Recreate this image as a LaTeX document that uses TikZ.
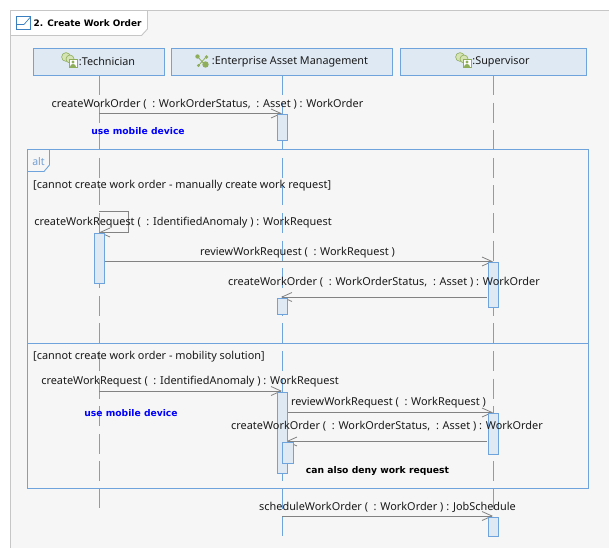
\documentclass[tikz,border=0pt]{standalone}
\usepackage{fontspec}
\setmainfont{Noto Sans}
\newfontfamily\boldfam{DejaVu Sans}
\usetikzlibrary{arrows.meta}
\pgfdeclarelayer{sheet}
\pgfdeclarelayer{under}
\pgfsetlayers{sheet,under,main}
\definecolor{ln}{HTML}{6FA3DC}
\definecolor{bx}{HTML}{DFE9F4}
\definecolor{bgc}{HTML}{F6F6F6}
\definecolor{fr}{HTML}{C6C6C6}
\definecolor{ms}{HTML}{828282}
\definecolor{tx}{HTML}{1A1A1A}
\definecolor{icg}{HTML}{8FAE5A}
\definecolor{icl}{HTML}{D5E3B5}
\definecolor{ttl}{HTML}{3A7FBF}
\tikzset{
  x=1pt,y=-1pt,
  head/.style={draw=ln,fill=bx,line width=0.9pt,minimum height=27pt,inner sep=0pt,outer sep=0pt,text=tx,font=\fontsize{10.8}{12}\selectfont},
  act/.style={draw=ln,fill=bx,line width=0.9pt,inner sep=0pt,outer sep=0pt,minimum width=10pt},
  life/.style={draw=ln,line width=0.9pt,dash pattern=on 20pt off 7.6pt},
  msg/.style={draw=ms,line width=0.9pt,-{Straight Barb[length=10pt,width=9pt,line width=0.8pt]}},
  lbl/.style={inner sep=0pt,text=tx,yshift=-1pt,font=\fontsize{10.9}{12}\selectfont},
  note/.style={inner sep=0pt,font=\boldfam\fontsize{9.2}{11}\selectfont\bfseries},
}
\newcommand{\actoricon}[2]{%
  \fill[icl,draw=icg,line width=0.6pt] (#1+4,#2+4) circle[radius=4.4];
  \fill[icl,draw=icg,line width=0.6pt] (#1+8,#2+6) circle[radius=4];
  \fill[white,draw=icg,line width=0.7pt] (#1+7,#2+6) rectangle (#1+15,#2+14.5);
  \fill[icg] (#1+11,#2+9) circle[radius=1.7];
  \fill[icg] (#1+8,#2+14) .. controls (#1+8,#2+10.5) and (#1+14,#2+10.5) .. (#1+14,#2+14) -- cycle;
}
\begin{document}
\begin{tikzpicture}
\useasboundingbox (0,0) rectangle (609,548);
% sheet and title tab
\begin{pgfonlayer}{sheet}
\fill[white] (0,0) rectangle (609,548);
\fill[bgc] (10.5,10.5) rectangle (609,548);
\draw[fr,line width=0.9pt] (609,10.5) -- (10.5,10.5) -- (10.5,548);
\draw[fr,line width=0.9pt,fill=white] (10.5,10.5) -- (147.5,10.5) -- (147.5,29) -- (141.5,35.5) -- (10.5,35.5) -- cycle;
\draw[draw=ttl,fill=white,line width=0.9pt] (16.5,16.5) rectangle (30.5,29.5);
\draw[draw=ttl,line width=0.7pt] (16.5,24.5) -- (24,24.5) -- (30.5,17);
\end{pgfonlayer}
\node[anchor=west,inner sep=0pt,text=black,font=\boldfam\fontsize{8.9}{12}\selectfont\bfseries] (title) at (33.5,23) {2. Create Work Order};
% lifeline heads
\node[head,minimum width=130.5pt] (tech) at (99,61.5) {\hspace{16pt}\raisebox{-0.5pt}{:Technician}};
\node[head,minimum width=220.5pt] (eam) at (282,61.5) {\hspace{16pt}\raisebox{-0.5pt}{:Enterprise Asset Management}};
\node[head,minimum width=186pt] (sup) at (493,61.5) {\hspace{16pt}\raisebox{-0.5pt}{:Supervisor}};
\actoricon{62}{53}
\actoricon{456}{53}
% EAM icon
\draw[icg,line width=0.8pt] (197.5,56.5) -- (205,65) (206,57) -- (199,65);
\fill[icg] (197.5,56.5) circle[radius=2.2] (206.5,57) circle[radius=1.9] (198.5,65.5) circle[radius=1.7] (205.5,64.5) circle[radius=3.2];
% lifeline ends
\coordinate (techEnd) at (99,508);
\coordinate (eamEnd) at (282,536);
\coordinate (supEnd) at (493,544);
\begin{pgfonlayer}{under}
\draw[life] (tech.south) -- (techEnd);
\draw[life] (eam.south) -- (eamEnd);
\draw[life] (sup.south) -- (supEnd);
\end{pgfonlayer}
% alt frame
\coordinate (fTL) at (27.5,149.5);
\coordinate (fBR) at (588,488);
\coordinate (dL) at (27.5,343.5);
\coordinate (dR) at (588,343.5);
\begin{pgfonlayer}{under}
\draw[ln,line width=0.9pt] (fTL) rectangle (fBR);
\draw[ln,line width=0.9pt] (dL) -- (dR);
\draw[ln,line width=0.9pt] (27.5,171.5) -- (44,171.5) -- (49.5,165) -- (49.5,149.5);
\end{pgfonlayer}
\node[inner sep=0pt,text=ln!90!gray,font=\fontsize{10.5}{11}\selectfont] (alt) at (38.5,161.5) {alt};
% activations
\node[act,minimum height=26pt] (a1) at (282,127) {};
\node[act,minimum height=50.5pt] (a2) at (99.5,258.2) {};
\node[act,minimum height=45pt] (a3) at (493,284.5) {};
\node[act,minimum height=16.5pt] (a4) at (282,306.2) {};
\node[act,minimum height=81.5pt] (a5) at (282.2,432.7) {};
\node[act,minimum height=41.5pt] (a6) at (493,433.7) {};
\node[act,minimum height=21pt,minimum width=11pt] (a7) at (287.5,452.5) {};
\node[act,minimum height=19pt] (a8) at (493,526.5) {};
% message anchors
\coordinate (m1a) at (99,113.5);   \coordinate (m1b) at (282,113.5);
\coordinate (s1a) at (99,211.5);   \coordinate (s1b) at (128.5,211.5);
\coordinate (s1c) at (128.5,232.5);\coordinate (s1d) at (99,232.5);
\coordinate (m2b) at (493,261.5);
\coordinate (m3a) at (487,297);    \coordinate (m3b) at (281,297);
\coordinate (m4a) at (99,391);     \coordinate (m4b) at (282,391);
\coordinate (m5b) at (493,412.5);
\coordinate (m6a) at (487,441.5);  \coordinate (m6b) at (286,441.5);
\coordinate (m7a) at (282,516);    \coordinate (m7b) at (493,516);
\begin{pgfonlayer}{under}
\draw[msg] (m1a) -- (m1b);
\draw[msg] (s1a) -- (s1b) -- (s1c) -- (s1d);
\draw[msg] (a2.east |- m2b) -- (m2b);
\draw[msg] (m3a) -- (m3b);
\draw[msg] (m4a) -- (m4b);
\draw[msg] (a5.east |- m5b) -- (m5b);
\draw[msg] (m6a) -- (m6b);
\draw[msg] (m7a) -- (m7b);
\end{pgfonlayer}
% labels
\node[lbl] (t1) at (207.5,103) {createWorkOrder (\ \ : WorkOrderStatus,\ \ : Asset ) : WorkOrder};
\node[note,text=blue] (n1) at (138,131) {use mobile device};
\node[lbl,anchor=west] (g1) at (33,185) {[cannot create work order - manually create work request]};
\node[lbl] (t2) at (183,222) {createWorkRequest (\ \ : IdentifiedAnomaly ) : WorkRequest};
\node[lbl] (t3) at (297.5,252) {reviewWorkRequest (\ \ : WorkRequest )};
\node[lbl] (t4) at (384,281) {createWorkOrder (\ \ : WorkOrderStatus,\ \ : Asset ) : WorkOrder};
\node[lbl,anchor=west] (g2) at (33,356) {[cannot create work order - mobility solution]};
\node[lbl] (t5) at (190,381) {createWorkRequest (\ \ : IdentifiedAnomaly ) : WorkRequest};
\node[lbl] (t6) at (388.5,402) {reviewWorkRequest (\ \ : WorkRequest )};
\node[note,text=blue] (n2) at (131,413) {use mobile device};
\node[lbl] (t7) at (387,425) {createWorkOrder (\ \ : WorkOrderStatus,\ \ : Asset ) : WorkOrder};
\node[note,text=black] (n3) at (377.5,471) {can also deny work request};
\node[lbl] (t8) at (387.5,506) {scheduleWorkOrder (\ \ : WorkOrder ) : JobSchedule};
\end{tikzpicture}
\end{document}
